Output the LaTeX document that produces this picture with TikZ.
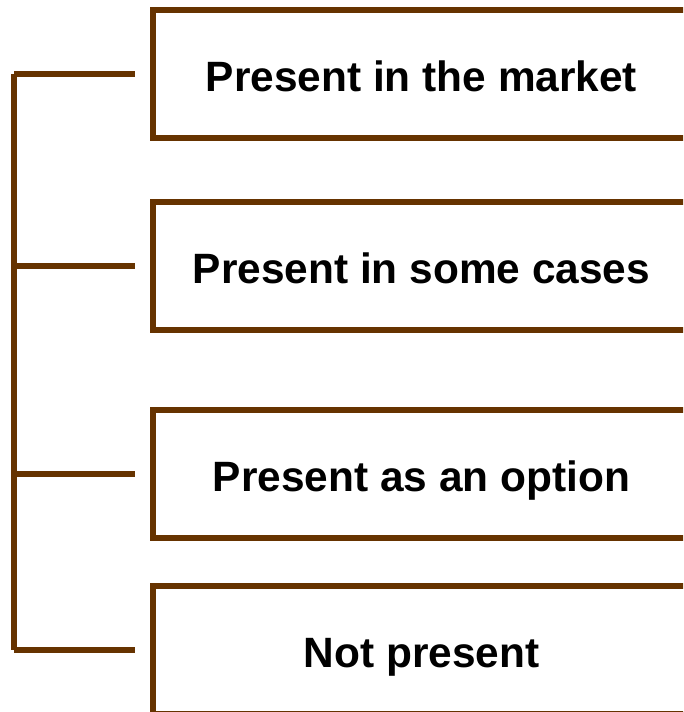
\documentclass[tikz,border=0pt]{standalone}
\usepackage{fontspec}
\setmainfont{Liberation Sans}
\usepackage{tikz}
\usetikzlibrary{positioning}
\definecolor{frame}{RGB}{102,51,0}

\begin{document}
\begin{tikzpicture}[x=0.75pt,y=-0.75pt,
  stage/.style={draw=frame, line width=4.5pt, rectangle, outer sep=0pt,
    minimum width=402.75pt, minimum height=96pt,
    text height=31.8pt, text depth=5.3pt,
    font=\fontsize{31.8}{38}\selectfont\bfseries},
  tie/.style={draw=frame, line width=4.5pt, shorten >=13.5pt}]

\newcommand{\spinex}{14}

\clip (0,0) rectangle (683,712);

\node[stage] (market) at (421.5,74)  {Present in the market};
\node[stage] (some)   at (421.5,266) {Present in some cases};
\node[stage] (option) at (421.5,474) {Present as an option};
\node[stage] (none)   at (421.5,650) {Not present};

\coordinate (s1) at (\spinex,74);
\coordinate (s2) at (\spinex,266);
\coordinate (s3) at (\spinex,474);
\coordinate (s4) at (\spinex,650);

\draw[draw=frame, line width=4.5pt] (s1) -- (s4);

\draw[tie] (s1) -- (market);
\draw[tie] (s2) -- (some);
\draw[tie] (s3) -- (option);
\draw[tie] (s4) -- (none);

\end{tikzpicture}
\end{document}
